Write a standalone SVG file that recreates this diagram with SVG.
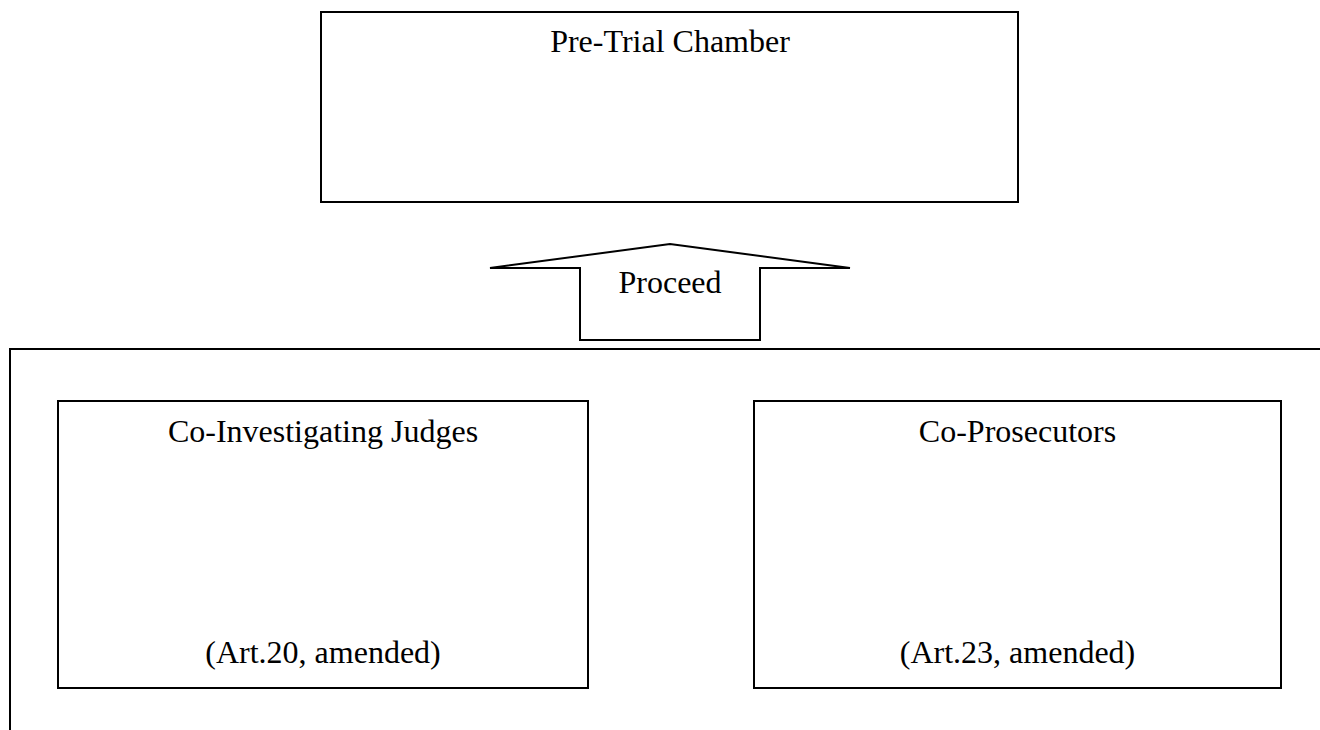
<svg xmlns="http://www.w3.org/2000/svg" width="1320" height="730" viewBox="0 0 1320 730">
  <style>
    .box { fill: #ffffff; stroke: #000000; stroke-width: 2; }
    .label { font-family: "Liberation Serif", "Times New Roman", serif; font-size: 32px; fill: #000000; text-anchor: middle; }
  </style>
  <rect width="1320" height="730" fill="#ffffff"/>

  <!-- outer frame holding the investigating bodies (runs off the page) -->
  <g id="investigation-frame">
    <rect class="box" x="10" y="349" width="1340" height="420"/>
  </g>

  <!-- upper chamber -->
  <g id="pre-trial-chamber">
    <rect class="box" x="321" y="12" width="697" height="190"/>
    <text class="label" x="670" y="52">Pre-Trial Chamber</text>
  </g>

  <!-- block arrow pointing up to the chamber -->
  <g id="connectors">
    <polygon class="box" points="490,268 670,244 850,268 760,268 760,340 580,340 580,268"/>
    <text class="label" x="670" y="293">Proceed</text>
  </g>

  <g id="co-investigating-judges">
    <rect class="box" x="58" y="401" width="530" height="287"/>
    <text class="label" x="323" y="442">Co-Investigating Judges</text>
    <text class="label" x="323" y="663">(Art.20, amended)</text>
  </g>

  <g id="co-prosecutors">
    <rect class="box" x="754" y="401" width="527" height="287"/>
    <text class="label" x="1017.5" y="442">Co-Prosecutors</text>
    <text class="label" x="1017.5" y="663">(Art.23, amended)</text>
  </g>
</svg>
